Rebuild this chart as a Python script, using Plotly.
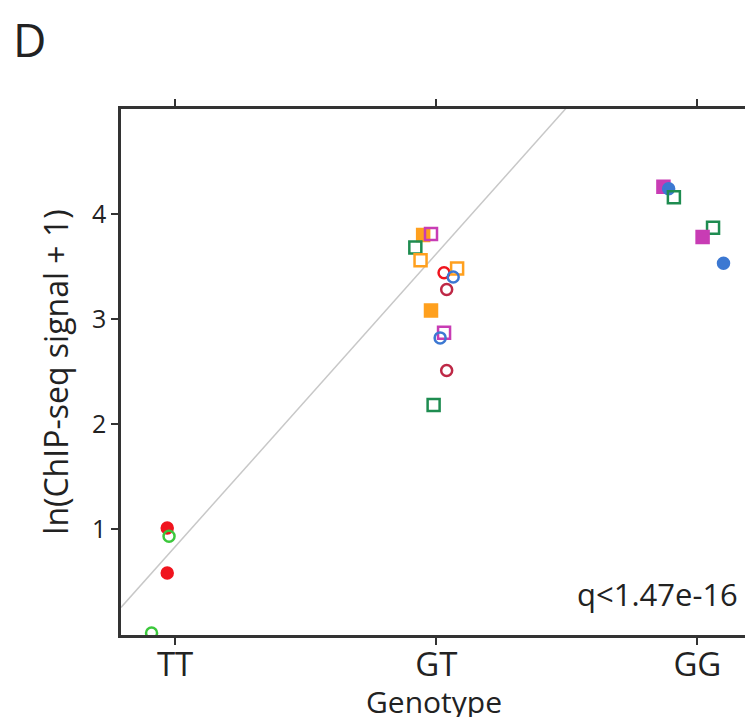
import plotly.graph_objects as go

# ---- data ----
categories = ["TT", "GT", "GG"]
cat_pos = [1, 2, 3]

# each point: x (jittered position), y value, colour key, symbol key
pt_x = [0.97, 0.977, 0.97, 0.91,
        1.95, 1.98, 1.92, 1.94, 2.03, 2.08, 2.065, 2.04, 1.98, 2.03, 2.015, 2.04, 1.99,
        2.87, 2.89, 2.91, 3.06, 3.02, 3.10]
pt_y = [1.01, 0.93, 0.58, 0.01,
        3.80, 3.81, 3.68, 3.56, 3.44, 3.48, 3.40, 3.28, 3.08, 2.87, 2.82, 2.51, 2.18,
        4.26, 4.24, 4.16, 3.87, 3.78, 3.53]
pt_color = ["red", "lime", "red", "lime",
            "orange", "magenta", "dkgreen", "orange", "red", "orange", "blue", "crimson", "orange", "magenta", "blue", "crimson", "dkgreen",
            "magenta", "blue", "dkgreen", "dkgreen", "magenta", "blue"]
pt_symbol = ["circle", "circle-open", "circle", "circle-open",
             "square", "square-open", "square-open", "square-open", "circle-open", "square-open", "circle-open", "circle-open", "square", "square-open", "circle-open", "circle-open", "square-open",
             "square", "circle", "square-open", "square-open", "square", "circle"]

fit_slope = 2.79
fit_intercept = -1.96

palette = {"red": "#f0141e", "lime": "#3cc83c", "orange": "#ffa01e", "magenta": "#c83cb4",
           "dkgreen": "#1e8c50", "blue": "#3c78d2", "crimson": "#be2846"}

x_range = [0.793, 3.19]
y_range = [-0.01, 5.0]

fig = go.Figure()

# regression line
fig.add_trace(go.Scatter(
    x=x_range, y=[fit_intercept + fit_slope * v for v in x_range],
    mode="lines", line=dict(color="#c8c8c8", width=1.5), hoverinfo="skip", showlegend=False))

for x, y, c, s in zip(pt_x, pt_y, pt_color, pt_symbol):
    is_sq = s.startswith("square")
    fig.add_trace(go.Scatter(
        x=[x], y=[y], mode="markers", showlegend=False,
        marker=dict(symbol=s, color=palette[c], size=12 if is_sq else 11,
                    line=dict(color=palette[c], width=2.5))))

font_family = "Open Sans, Lato, sans-serif"

fig.update_layout(
    width=745, height=709,
    margin=dict(l=113, r=6, t=101, b=82, autoexpand=False),
    paper_bgcolor="white", plot_bgcolor="white",
    font=dict(family=font_family, color="#222222"),
    xaxis=dict(range=x_range, tickvals=cat_pos, ticktext=categories,
               showgrid=False, zeroline=False, showline=True, mirror="ticks",
               linecolor="#333333", linewidth=2.5, ticks="outside", ticklen=7, tickwidth=2,
               tickcolor="#333333", tickfont=dict(size=33), automargin=False,
               ticklabelstandoff=-8),
    yaxis=dict(range=y_range, tickvals=[1, 2, 3, 4], ticktext=["1", "2", "3", "4"],
               showgrid=False, zeroline=False, showline=True, mirror="ticks",
               linecolor="#333333", linewidth=2.5, ticks="outside", ticklen=7, tickwidth=2,
               tickcolor="#333333", tickfont=dict(size=25), automargin=False,
               title=dict(text="ln(ChIP-seq signal + 1)", font=dict(size=32), standoff=14)),
    annotations=[
        dict(text="D", xref="paper", yref="paper", x=-0.175, y=1.195, xanchor="left", yanchor="top",
             showarrow=False, font=dict(size=46, family=font_family, color="#222222")),
        dict(text="q<1.47e-16", xref="paper", yref="paper", x=0.989, y=0.034, xanchor="right",
             yanchor="bottom", showarrow=False, font=dict(size=31, family=font_family, color="#222222")),
        dict(text="Genotype", xref="paper", yref="paper", x=0.5, y=-0.084, xanchor="center",
             yanchor="top", showarrow=False, font=dict(size=30, family=font_family, color="#222222")),
    ],
)

fig.write_html("out.html")
